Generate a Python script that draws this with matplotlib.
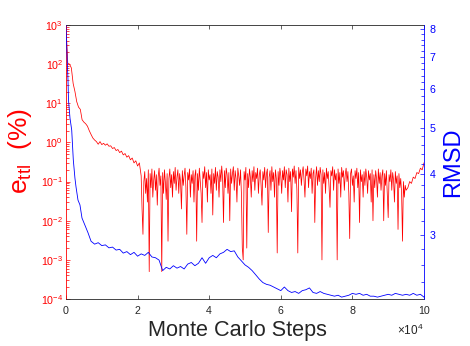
import numpy as np
import matplotlib
matplotlib.use('Agg')
import matplotlib.pyplot as plt
from matplotlib.ticker import FixedLocator, FixedFormatter, LogLocator, NullFormatter

plt.rcParams['font.family'] = ['Liberation Sans', 'DejaVu Sans']
plt.rcParams['mathtext.default'] = 'regular'

# Monte Carlo steps (x10^4); the noisy part is sampled more finely
steps_start = np.arange(0, 2.051, 0.05)
steps_noisy = np.arange(2.10, 9.501, 0.025)
steps_end = np.arange(9.55, 10.001, 0.05)

# e_ttl (%)
err_start = [950, 105, 100, 80, 32, 20, 11, 8, 7, 3.8,
             3.3, 3.0, 2.6, 2.0, 1.6, 1.3, 1.15, 1.05, 0.9, 1.05,
             0.88, 0.95, 0.85, 0.92, 0.8, 0.82, 0.7, 0.74, 0.62, 0.66,
             0.55, 0.6, 0.48, 0.52, 0.42, 0.46, 0.36, 0.4, 0.3, 0.34,
             0.25, 0.3]
err_noisy = [0.14, 0.02, 0.0045, 0.1, 0.18, 0.05, 0.12, 0.03, 0.2, 0.0005,
             0.16, 0.07, 0.21, 0.04, 0.11, 0.19, 0.06, 0.15, 0.025, 0.13,
             0.22, 0.08, 0.14, 0.0005, 0.17, 0.05, 0.2, 0.1, 0.035, 0.16,
             0.003, 0.12, 0.21, 0.07, 0.15, 0.04, 0.18, 0.09, 0.23, 0.06,
             0.13, 0.2, 0.05, 0.16, 0.1, 0.02, 0.19, 0.08, 0.14, 0.22,
             0.07, 0.0045, 0.17, 0.11, 0.21, 0.04, 0.15, 0.09, 0.19, 0.03,
             0.14, 0.2, 0.003, 0.16, 0.06, 0.22, 0.1, 0.05, 0.009, 0.18,
             0.12, 0.24, 0.07, 0.17, 0.03, 0.2, 0.11, 0.15, 0.05, 0.21,
             0.014, 0.16, 0.09, 0.23, 0.06, 0.18, 0.13, 0.04, 0.2, 0.1,
             0.25, 0.12, 0.009, 0.19, 0.07, 0.22, 0.15, 0.05, 0.17, 0.01,
             0.21, 0.09, 0.16, 0.24, 0.06, 0.19, 0.12, 0.03, 0.22, 0.14,
             0.08, 0.2, 0.05, 0.002, 0.001, 0.18, 0.11, 0.23, 0.002, 0.16,
             0.07, 0.21, 0.13, 0.04, 0.19, 0.1, 0.24, 0.06, 0.17, 0.12,
             0.22, 0.05, 0.15, 0.2, 0.08, 0.025, 0.18, 0.11, 0.23, 0.07,
             0.16, 0.21, 0.005, 0.13, 0.19, 0.06, 0.24, 0.1, 0.17, 0.04,
             0.2, 0.12, 0.0015, 0.18, 0.08, 0.22, 0.14, 0.05, 0.19, 0.11,
             0.24, 0.07, 0.2, 0.15, 0.03, 0.22, 0.1, 0.18, 0.017, 0.21,
             0.13, 0.25, 0.09, 0.19, 0.06, 0.0015, 0.23, 0.12, 0.2, 0.08,
             0.17, 0.24, 0.11, 0.04, 0.21, 0.14, 0.25, 0.07, 0.18, 0.12,
             0.22, 0.05, 0.16, 0.2, 0.009, 0.13, 0.24, 0.08, 0.19, 0.1,
             0.23, 0.15, 0.001, 0.2, 0.09, 0.17, 0.05, 0.22, 0.12, 0.18,
             0.07, 0.022, 0.19, 0.14, 0.24, 0.06, 0.2, 0.11, 0.16, 0.001,
             0.21, 0.09, 0.17, 0.04, 0.23, 0.13, 0.19, 0.06, 0.15, 0.22,
             0.1, 0.18, 0.05, 0.0035, 0.16, 0.21, 0.08, 0.14, 0.03, 0.19,
             0.12, 0.22, 0.07, 0.17, 0.009, 0.2, 0.1, 0.15, 0.04, 0.18,
             0.08, 0.21, 0.13, 0.05, 0.19, 0.11, 0.16, 0.03, 0.2, 0.01,
             0.15, 0.07, 0.19, 0.12, 0.04, 0.21, 0.09, 0.17, 0.06, 0.14,
             0.2, 0.01, 0.16, 0.08, 0.19, 0.05, 0.012, 0.15, 0.1, 0.2,
             0.06, 0.17, 0.11, 0.03, 0.18, 0.09, 0.14, 0.006, 0.16, 0.07,
             0.12, 0.05, 0.003, 0.1, 0.04, 0.08, 0.06]
err_end = [0.07, 0.1, 0.09, 0.13, 0.12, 0.17, 0.16, 0.22, 0.2, 0.3]

# RMSD
steps_rmsd = [0, 0.014, 0.028, 0.056, 0.07, 0.112, 0.16, 0.204, 0.25, 0.28,
              0.335, 0.39, 0.447, 0.53, 0.615,
              0.7, 0.8, 0.9, 1.0, 1.1, 1.2, 1.3, 1.4, 1.5, 1.6,
              1.7, 1.8, 1.9, 2.0, 2.1, 2.2, 2.3, 2.4, 2.5, 2.6,
              2.7, 2.8, 2.9, 3.0, 3.1, 3.2, 3.3, 3.4, 3.5, 3.6,
              3.7, 3.8, 3.9, 4.0, 4.1, 4.2, 4.3, 4.4, 4.5, 4.6,
              4.7, 4.8, 4.9, 5.0, 5.1, 5.2, 5.3, 5.4, 5.5, 5.6,
              5.7, 5.8, 5.9, 6.0, 6.1, 6.2, 6.3, 6.4, 6.5, 6.6,
              6.7, 6.8, 6.9, 7.0, 7.1, 7.2, 7.3, 7.4, 7.5, 7.6,
              7.7, 7.8, 7.9, 8.0, 8.1, 8.2, 8.3, 8.4, 8.5, 8.6,
              8.7, 8.8, 8.9, 9.0, 9.1, 9.2, 9.3, 9.4, 9.5, 9.6,
              9.7, 9.8, 9.9, 10.0]
rmsd = [8.15, 7.59, 7.07, 6.27, 5.70, 5.23, 4.94, 4.29, 3.93, 3.77,
        3.54, 3.46, 3.25, 3.14, 3.03,
        2.91, 2.87, 2.89, 2.85, 2.86, 2.82, 2.83, 2.79, 2.80, 2.75,
        2.77, 2.73, 2.76, 2.71, 2.74, 2.72, 2.76, 2.70, 2.69, 2.66,
        2.53, 2.57, 2.55, 2.59, 2.56, 2.58, 2.55, 2.61, 2.63, 2.59,
        2.62, 2.69, 2.62, 2.69, 2.72, 2.69, 2.74, 2.76, 2.80, 2.77,
        2.78, 2.70, 2.65, 2.60, 2.57, 2.53, 2.48, 2.43, 2.39, 2.37,
        2.36, 2.34, 2.32, 2.30, 2.34, 2.30, 2.28, 2.29, 2.27, 2.30,
        2.31, 2.33, 2.28, 2.27, 2.29, 2.27, 2.26, 2.25, 2.24, 2.25,
        2.23, 2.24, 2.25, 2.27, 2.26, 2.27, 2.25, 2.26, 2.24, 2.24,
        2.23, 2.24, 2.25, 2.26, 2.25, 2.27, 2.26, 2.25, 2.26, 2.25,
        2.27, 2.25, 2.26, 2.23]

rmsd_ticks = [3, 4, 5, 6, 7, 8]
rmsd_minor = [2.4, 2.6, 2.8, 3.2, 3.4, 3.6, 3.8, 4.2, 4.4, 4.6, 4.8,
              5.2, 5.4, 5.6, 5.8, 6.2, 6.4, 6.6, 6.8, 7.2, 7.4, 7.6, 7.8]
x_ticks = [0, 2, 4, 6, 8, 10]

steps_err = np.concatenate([steps_start, steps_noisy, steps_end])
err_ttl = np.array(err_start + err_noisy + err_end)

dark = '#262626'

fig = plt.figure(figsize=(4.7, 3.46), dpi=100)
ax = fig.add_axes([0.1404, 0.1358, 0.7617, 0.7919])
ax.plot(steps_err, err_ttl, color='#ff0000', lw=0.55)
ax.set_yscale('log')
ax.set_xlim(0, 10)
ax.set_ylim(1e-4, 1e3)
ax.set_xticks(x_ticks)
ax.yaxis.set_major_locator(LogLocator(base=10, numticks=15))
ax.yaxis.set_minor_locator(LogLocator(base=10, subs=np.arange(2, 10), numticks=15))
ax.yaxis.set_minor_formatter(NullFormatter())
ax.tick_params(axis='x', which='both', direction='in', top=True, colors=dark,
               labelsize=7.7, length=3, width=0.5, pad=5)
ax.tick_params(axis='y', which='major', direction='in', colors='red',
               labelsize=7.7, length=3, width=0.5, pad=2)
ax.tick_params(axis='y', which='minor', direction='in', colors='red',
               length=2, width=0.5)
for s in ['top', 'bottom']:
    ax.spines[s].set_color(dark)
    ax.spines[s].set_linewidth(0.6)
ax.spines['left'].set_color('red')
ax.spines['left'].set_linewidth(0.6)
ax.spines['right'].set_visible(False)
ax.set_xlabel('Monte Carlo Steps', fontsize=15.6, color=dark)
ax.xaxis.set_label_coords(0.478, -0.078, transform=ax.transAxes)
ax.xaxis.label.set_va('top')
ax.set_ylabel('$e_{ttl}$  (%)', fontsize=19, color='red')
ax.yaxis.set_label_coords(-0.09, 0.54, transform=ax.transAxes)
ax.text(1.0, -0.085, r'$\times10^{4}$', transform=ax.transAxes, ha='right',
        va='top', fontsize=8.5, color=dark)

ax2 = ax.twinx()
ax2.plot(steps_rmsd, rmsd, color='#0000ff', lw=0.6)
ax2.set_yscale('log')
ax2.set_ylim(2.21, 8.15)
ax2.yaxis.set_major_locator(FixedLocator(rmsd_ticks))
ax2.yaxis.set_major_formatter(FixedFormatter([str(t) for t in rmsd_ticks]))
ax2.yaxis.set_minor_locator(FixedLocator(rmsd_minor))
ax2.yaxis.set_minor_formatter(NullFormatter())
ax2.tick_params(axis='y', which='major', direction='in', colors='blue',
                labelsize=7.7, length=3, width=0.5, pad=4)
ax2.tick_params(axis='y', which='minor', direction='in', colors='blue',
                length=2, width=0.5)
for s in ['top', 'bottom', 'left']:
    ax2.spines[s].set_visible(False)
ax2.spines['right'].set_color('blue')
ax2.spines['right'].set_linewidth(0.6)
ax2.set_ylabel('RMSD', fontsize=17, color='blue', labelpad=5)

fig.savefig('out.png', dpi=100)
